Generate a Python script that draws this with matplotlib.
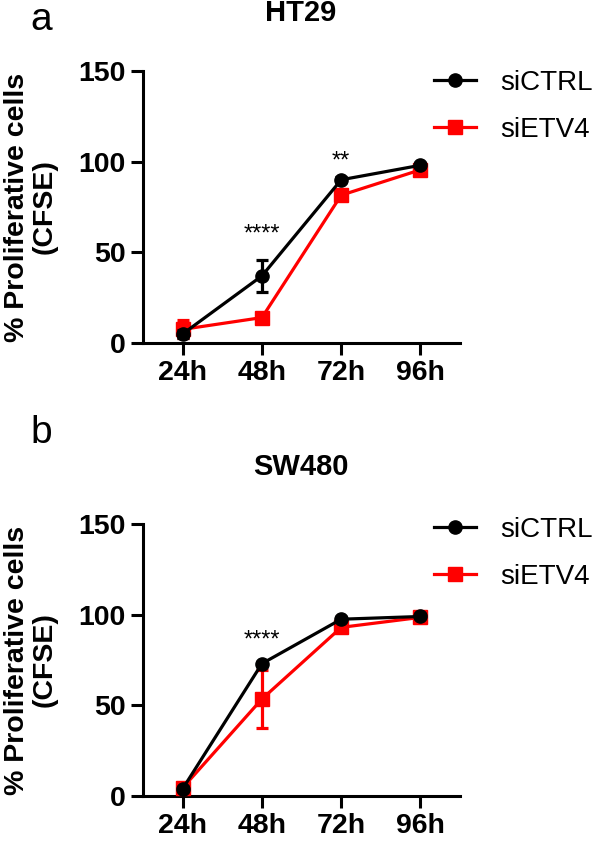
import matplotlib
matplotlib.use("Agg")
import matplotlib.pyplot as plt
from matplotlib.lines import Line2D
import numpy as np

plt.rcParams['font.family'] = ['Liberation Sans', 'DejaVu Sans']

timepoints = ['24h', '48h', '72h', '96h']

# HT29
ht29_ctrl = [5, 37, 90, 98]
ht29_ctrl_err = [2, 9, 1.5, 1]
ht29_etv4 = [7.5, 14, 81.5, 95.5]
ht29_etv4_err = [5, 1, 2, 1]
ht29_stars = {1: '****', 2: '**'}

# SW480
sw480_ctrl = [4, 73, 97.5, 99]
sw480_ctrl_err = [1, 1, 1, 1]
sw480_etv4 = [4.5, 53.5, 93, 98.5]
sw480_etv4_err = [2, 16, 1.5, 1]
sw480_stars = {1: '****'}

LW = 2.3
RED = '#ff0000'


def draw_panel(ax, ctrl, ctrl_err, etv4, etv4_err, stars, star_y):
    x = np.arange(len(timepoints))
    ax.errorbar(x, etv4, yerr=etv4_err, color=RED, marker='s', ms=9.5,
                lw=LW, capsize=4.5, capthick=LW, elinewidth=LW, zorder=3)
    ax.errorbar(x, ctrl, yerr=ctrl_err, color='black', marker='o', ms=9.5,
                lw=LW, capsize=4.5, capthick=LW, elinewidth=LW, zorder=4)
    for i, s in stars.items():
        ax.text(i, star_y[i], s, ha='center', va='center', fontsize=17)

    ax.set_xlim(-0.5, 3.5)
    ax.set_ylim(0, 150)
    ax.set_yticks([0, 50, 100, 150])
    ax.set_xticks(x)
    ax.set_xticklabels(timepoints)
    for sp in ['top', 'right']:
        ax.spines[sp].set_visible(False)
    for sp in ['left', 'bottom']:
        ax.spines[sp].set_linewidth(2.2)
    ax.tick_params(width=2.2, length=8.5, labelsize=20.5, pad=4)
    for lab in ax.get_xticklabels() + ax.get_yticklabels():
        lab.set_fontweight('bold')
    ax.set_ylabel('% Proliferative cells\n(CFSE)', fontsize=20.5,
                  fontweight='bold', linespacing=1.05)
    ax.yaxis.set_label_coords(-0.27, 0.5)

    handles = [Line2D([], [], color='black', marker='o', ms=9.5, lw=LW),
               Line2D([], [], color=RED, marker='s', ms=9.5, lw=LW)]
    return handles


fig = plt.figure(figsize=(5.96, 8.46), dpi=100)
ax1 = fig.add_axes([0.240, 0.5946, 0.532, 0.3215])
ax2 = fig.add_axes([0.240, 0.0591, 0.532, 0.3215])

h1 = draw_panel(ax1, ht29_ctrl, ht29_ctrl_err, ht29_etv4, ht29_etv4_err,
                ht29_stars, {1: 60, 2: 100})
h2 = draw_panel(ax2, sw480_ctrl, sw480_ctrl_err, sw480_etv4, sw480_etv4_err,
                sw480_stars, {1: 86})

for ax, h, yc in [(ax1, h1, 0.874), (ax2, h2, 0.3457)]:
    ax.legend(h, ['siCTRL', 'siETV4'], loc='center left',
              bbox_to_anchor=(0.728, yc), bbox_transform=fig.transFigure,
              frameon=False, borderpad=0, borderaxespad=0, handlelength=1.5,
              handletextpad=0.9, labelspacing=0.75, fontsize=20)

fig.text(0.505, 1 - 13 / 846, 'HT29', ha='center', va='center',
         fontsize=21, fontweight='bold')
fig.text(0.505, 1 - 467 / 846, 'SW480', ha='center', va='center',
         fontsize=21, fontweight='bold')
fig.text(0.069, 1 - 20 / 846, 'a', ha='center', va='center', fontsize=28)
fig.text(0.069, 1 - 433 / 846, 'b', ha='center', va='center', fontsize=28)

fig.savefig('out.png', dpi=100)
